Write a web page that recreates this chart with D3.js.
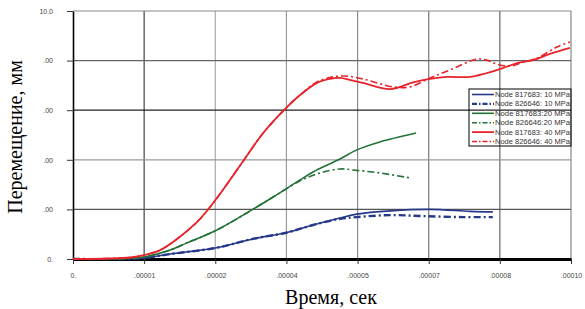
<!DOCTYPE html>
<html>
<head>
<meta charset="utf-8">
<script src="https://cdn.jsdelivr.net/npm/d3@7"></script>
<style>
  body { margin: 0; background: #fff; }
  svg { display: block; }
</style>
</head>
<body>
<svg id="chart"></svg>
<script>
// data (displacement in mm)
const xTicks = [0, 1e-4 / 7, 2e-4 / 7, 3e-4 / 7, 4e-4 / 7, 5e-4 / 7, 6e-4 / 7, 1e-4];
const xTickLabels = ['0.', '.00001', '.00002', '.00004', '.00005', '.00007', '.00008', '.00010'];
const yTicks = [0, 2, 4, 6, 8, 10];
const yTickLabels = ['0.', '.00', '.00', '.00', '.00', '10.0'];

const seriesNames = [
    'Node 817683: 10 MPa', 'Node 826646: 10 MPa',
    'Node 817683:20 MPa', 'Node 826646:20 MPa',
    'Node 817683: 40 MPa', 'Node 826646: 40 MPa'
];

// time in units of 1e-5 s
const blueSolidT = [0, 0.9, 1.43, 1.95, 2.85, 3.61, 4.30, 4.82, 5.36, 5.70, 6.37, 7.17, 7.97, 8.43];
const blueSolidV = [0, 0.00, 0.04, 0.20, 0.44, 0.81, 1.07, 1.37, 1.65, 1.81, 1.94, 2.00, 1.92, 1.90];
const blueDashT = [0, 0.9, 1.43, 1.95, 2.85, 3.61, 4.30, 4.82, 5.36, 5.70, 6.37, 7.03, 7.83, 8.43];
const blueDashV = [0, 0.00, 0.04, 0.20, 0.44, 0.81, 1.07, 1.37, 1.62, 1.69, 1.77, 1.73, 1.69, 1.69];

const greenSolidT = [0, 0.9, 1.43, 1.95, 2.29, 2.85, 3.29, 3.61, 4.02, 4.56, 4.82, 5.36, 5.70, 6.16, 6.89];
const greenSolidV = [0, 0.01, 0.08, 0.36, 0.65, 1.13, 1.62, 2.00, 2.50, 3.19, 3.51, 4.03, 4.40, 4.72, 5.08];
const greenDashT = [0, 0.9, 1.43, 1.95, 2.29, 2.85, 3.29, 3.61, 4.02, 4.56, 4.96, 5.36, 5.62, 6.16, 6.77];
const greenDashV = [0, 0.01, 0.08, 0.36, 0.65, 1.13, 1.62, 2.00, 2.50, 3.15, 3.47, 3.63, 3.59, 3.47, 3.27];

const redSolidT = [0, 0.74, 1.14, 1.43, 1.75, 2.09, 2.49, 2.69, 2.95, 3.39, 3.82, 4.28, 4.56, 4.90, 5.16, 5.36, 5.56, 5.82, 6.37, 6.83, 7.17, 7.51, 7.97, 8.31, 8.63, 8.92, 9.24, 9.58, 9.98];
const redSolidV = [0, 0.02, 0.06, 0.16, 0.36, 0.81, 1.49, 1.94, 2.62, 3.87, 5.08, 6.09, 6.61, 7.10, 7.26, 7.30, 7.22, 7.10, 6.85, 7.12, 7.26, 7.34, 7.34, 7.50, 7.70, 7.90, 8.02, 8.27, 8.51];
const redDashT = [0, 0.74, 1.14, 1.43, 1.75, 2.09, 2.49, 2.69, 2.95, 3.39, 3.82, 4.28, 4.56, 4.90, 5.16, 5.46, 5.82, 6.43, 6.77, 7.17, 7.57, 8.11, 8.31, 8.51, 8.78, 9.04, 9.32, 9.72, 9.98];
const redDashV = [0, 0.02, 0.06, 0.16, 0.36, 0.81, 1.49, 1.94, 2.62, 3.87, 5.08, 6.09, 6.61, 7.14, 7.32, 7.38, 7.26, 6.94, 6.94, 7.30, 7.62, 8.06, 8.02, 7.86, 7.78, 7.94, 8.10, 8.55, 8.75];

const seriesT = [blueSolidT, blueDashT, greenSolidT, greenDashT, redSolidT, redDashT];
const seriesV = [blueSolidV, blueDashV, greenSolidV, greenDashV, redSolidV, redDashV];

// styles
const colors = ['#26388a', '#26388a', '#237236', '#237236', '#e8232b', '#e8232b'];
const widths = [1.6, 2.4, 1.6, 1.6, 1.8, 1.6];
const dashes = [null, '7,3,2,3', null, '7,3,2,3', null, '7,3,2,3'];
const vGridColors = ['#000', '#444', '#aaa', '#999', '#888', '#777', '#666', '#888'];
const hGridColors = ['#000', '#555', '#999', '#222', '#666', '#888'];

const w = 585, h = 309;
const mLeft = 73, mRight = 571, mTop = 11, mBottom = 259;

const svg = d3.select('#chart')
    .attr('width', w)
    .attr('height', h);

const xScale = d3.scaleLinear().domain([0, 1e-4]).range([mLeft, mRight]);
const yScale = d3.scaleLinear().domain([0, 10]).range([mBottom, mTop]);

// grid
svg.append('g').selectAll('line')
    .data(xTicks.slice(1))
    .join('line')
    .attr('x1', d => xScale(d)).attr('x2', d => xScale(d))
    .attr('y1', mTop).attr('y2', mBottom)
    .attr('stroke', (d, i) => vGridColors[i + 1])
    .attr('stroke-width', 1.2);

svg.append('g').selectAll('line')
    .data(yTicks.slice(1))
    .join('line')
    .attr('x1', mLeft).attr('x2', mRight)
    .attr('y1', d => yScale(d)).attr('y2', d => yScale(d))
    .attr('stroke', (d, i) => hGridColors[i + 1])
    .attr('stroke-width', 1.2);

// axes
const xAxis = d3.axisBottom(xScale)
    .tickValues(xTicks)
    .tickFormat((d, i) => xTickLabels[i])
    .tickSize(5)
    .tickSizeOuter(0)
    .tickPadding(9);

const yAxis = d3.axisLeft(yScale)
    .tickValues(yTicks)
    .tickFormat((d, i) => yTickLabels[i])
    .tickSize(6)
    .tickSizeOuter(0)
    .tickPadding(14);

const yAxisGroup = svg.append('g')
    .attr('transform', `translate(${mLeft},0)`)
    .call(yAxis);
yAxisGroup.select('.domain').attr('stroke', '#000').attr('stroke-width', 1.6);

const xAxisGroup = svg.append('g')
    .attr('transform', `translate(0,${mBottom})`)
    .call(xAxis);
xAxisGroup.select('.domain').attr('stroke', '#000').attr('stroke-width', 3);

svg.selectAll('.tick line').attr('stroke', '#333').attr('stroke-width', 1);
svg.selectAll('.tick text')
    .attr('font-family', 'Liberation Sans, Arial, sans-serif')
    .attr('font-size', 7)
    .attr('fill', '#444');

// series
const line = d3.line()
    .x(d => xScale(d[0] * 1e-5))
    .y(d => yScale(d[1]))
    .curve(d3.curveCatmullRom.alpha(0.5));

seriesT.forEach((ts, k) => {
    const pts = ts.map((t, i) => [t, seriesV[k][i]]);
    svg.append('path')
        .attr('d', line(pts))
        .attr('fill', 'none')
        .attr('stroke', colors[k])
        .attr('stroke-width', widths[k])
        .attr('stroke-dasharray', dashes[k]);
});

// legend
const legend = svg.append('g')
    .attr('font-family', 'Liberation Sans, Arial, sans-serif')
    .attr('font-size', 7);

legend.append('rect')
    .attr('x', 469).attr('y', 89)
    .attr('width', 102).attr('height', 57)
    .attr('fill', 'none')
    .attr('stroke', '#000')
    .attr('stroke-width', 1);

seriesNames.forEach((name, i) => {
    const y = 94.5 + i * 9.4;
    legend.append('line')
        .attr('x1', 472).attr('x2', 494)
        .attr('y1', y).attr('y2', y)
        .attr('stroke', colors[i])
        .attr('stroke-width', widths[i])
        .attr('stroke-dasharray', dashes[i] ? '5,2,1.5,2' : null);
    legend.append('text')
        .attr('x', 495)
        .attr('y', y)
        .attr('dy', '0.35em')
        .attr('fill', '#333')
        .attr('textLength', 75)
        .attr('lengthAdjust', 'spacingAndGlyphs')
        .text(name);
});

// axis titles
svg.append('text')
    .attr('transform', 'translate(22,137) rotate(-90)')
    .attr('text-anchor', 'middle')
    .attr('font-family', 'Liberation Serif, Times New Roman, serif')
    .attr('font-size', 20)
    .text('Перемещение, мм');

svg.append('text')
    .attr('x', 331)
    .attr('y', 304)
    .attr('text-anchor', 'middle')
    .attr('font-family', 'Liberation Serif, Times New Roman, serif')
    .attr('font-size', 20)
    .text('Время, сек');
</script>
</body>
</html>
